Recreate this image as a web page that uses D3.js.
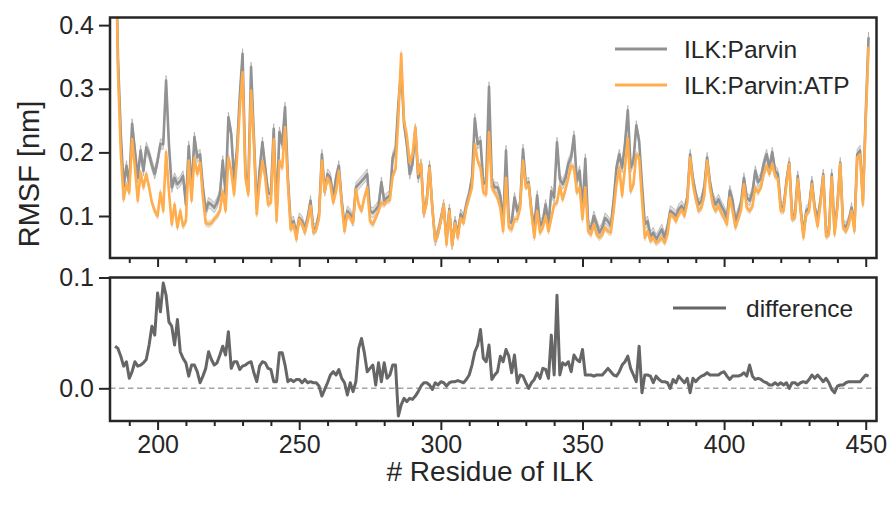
<!DOCTYPE html>
<html>
<head>
<meta charset="utf-8">
<script src="https://cdn.jsdelivr.net/npm/d3@7"></script>
<style>
  body { margin: 0; background: #fff; }
  svg { display: block; font-family: "Liberation Sans", Arial, sans-serif; }
  .tick text { fill: #262626; }
</style>
</head>
<body>
<svg id="chart" width="893" height="506"></svg>
<script>
// residues 185..451
const firstResidue = 185;
const lastResidue = 451;

// RMSF of ILK:Parvin (grey), nm
const rmsfParvin = [
  0.62, 0.35, 0.23, 0.146, 0.179, 0.150, 0.245, 0.203, 0.160, 0.203,
  0.171, 0.208, 0.197, 0.180, 0.166, 0.187, 0.213, 0.213, 0.313, 0.213,
  0.145, 0.160, 0.150, 0.155, 0.163, 0.118, 0.210, 0.139, 0.224, 0.192,
  0.197, 0.145, 0.108, 0.121, 0.118, 0.113, 0.121, 0.134, 0.187, 0.134,
  0.255, 0.229, 0.158, 0.203, 0.287, 0.355, 0.171, 0.139, 0.334, 0.224,
  0.113, 0.171, 0.216, 0.176, 0.137, 0.134, 0.237, 0.103, 0.232, 0.213,
  0.271, 0.160, 0.087, 0.092, 0.071, 0.097, 0.092, 0.079, 0.097, 0.124,
  0.079, 0.082, 0.103, 0.197, 0.139, 0.166, 0.160, 0.129, 0.160, 0.179,
  0.124, 0.084, 0.108, 0.103, 0.092, 0.145, 0.150, 0.155, 0.160, 0.166,
  0.108, 0.105, 0.110, 0.116, 0.153, 0.124, 0.129, 0.132, 0.192, 0.203,
  0.276, 0.332, 0.245, 0.213, 0.166, 0.182, 0.237, 0.160, 0.182, 0.105,
  0.124, 0.179, 0.113, 0.061, 0.074, 0.095, 0.118, 0.061, 0.111, 0.055,
  0.092, 0.071, 0.103, 0.095, 0.118, 0.134, 0.160, 0.253, 0.213, 0.218,
  0.150, 0.155, 0.303, 0.155, 0.145, 0.145, 0.132, 0.087, 0.203, 0.092,
  0.089, 0.129, 0.108, 0.118, 0.205, 0.150, 0.153, 0.108, 0.082, 0.132,
  0.084, 0.092, 0.118, 0.087, 0.139, 0.129, 0.216, 0.158, 0.150, 0.160,
  0.182, 0.192, 0.226, 0.155, 0.171, 0.108, 0.190, 0.087, 0.079, 0.100,
  0.087, 0.074, 0.082, 0.097, 0.092, 0.084, 0.124, 0.176, 0.197, 0.176,
  0.213, 0.266, 0.176, 0.187, 0.242, 0.218, 0.150, 0.087, 0.092, 0.068,
  0.074, 0.063, 0.071, 0.079, 0.066, 0.082, 0.108, 0.105, 0.100, 0.111,
  0.116, 0.108, 0.129, 0.197, 0.158, 0.134, 0.118, 0.124, 0.145, 0.192,
  0.153, 0.129, 0.118, 0.126, 0.116, 0.108, 0.097, 0.140, 0.124, 0.092,
  0.105, 0.121, 0.160, 0.129, 0.124, 0.137, 0.171, 0.153, 0.160, 0.182,
  0.197, 0.176, 0.200, 0.171, 0.166, 0.116, 0.113, 0.155, 0.184, 0.100,
  0.103, 0.163, 0.113, 0.071, 0.108, 0.113, 0.155, 0.113, 0.095, 0.124,
  0.166, 0.074, 0.076, 0.166, 0.076, 0.118, 0.184, 0.087, 0.082, 0.092,
  0.113, 0.082, 0.197, 0.203, 0.124, 0.260, 0.381
];

// RMSF of ILK:Parvin:ATP (orange), nm
const rmsfParvinAtp = [
  0.60, 0.33, 0.20, 0.126, 0.150, 0.137, 0.221, 0.176, 0.124, 0.168,
  0.145, 0.166, 0.145, 0.121, 0.108, 0.100, 0.137, 0.108, 0.200, 0.139,
  0.087, 0.118, 0.082, 0.108, 0.084, 0.092, 0.187, 0.124, 0.192, 0.166,
  0.184, 0.129, 0.089, 0.087, 0.089, 0.095, 0.100, 0.108, 0.139, 0.108,
  0.192, 0.171, 0.134, 0.187, 0.266, 0.326, 0.160, 0.134, 0.297, 0.213,
  0.103, 0.150, 0.187, 0.160, 0.118, 0.121, 0.221, 0.092, 0.187, 0.176,
  0.240, 0.150, 0.079, 0.087, 0.063, 0.095, 0.087, 0.074, 0.092, 0.116,
  0.074, 0.079, 0.097, 0.187, 0.137, 0.160, 0.150, 0.121, 0.139, 0.171,
  0.118, 0.076, 0.103, 0.097, 0.089, 0.142, 0.118, 0.108, 0.129, 0.145,
  0.092, 0.087, 0.097, 0.108, 0.121, 0.118, 0.124, 0.125, 0.163, 0.174,
  0.255, 0.355, 0.250, 0.226, 0.184, 0.197, 0.240, 0.166, 0.182, 0.103,
  0.121, 0.176, 0.113, 0.061, 0.071, 0.092, 0.118, 0.055, 0.108, 0.053,
  0.089, 0.066, 0.097, 0.089, 0.113, 0.129, 0.145, 0.213, 0.187, 0.176,
  0.137, 0.134, 0.232, 0.145, 0.137, 0.129, 0.113, 0.076, 0.160, 0.082,
  0.079, 0.095, 0.095, 0.113, 0.187, 0.145, 0.150, 0.103, 0.066, 0.108,
  0.074, 0.082, 0.100, 0.076, 0.097, 0.118, 0.121, 0.147, 0.126, 0.142,
  0.160, 0.179, 0.176, 0.137, 0.145, 0.095, 0.145, 0.076, 0.071, 0.087,
  0.071, 0.066, 0.071, 0.082, 0.076, 0.074, 0.108, 0.150, 0.176, 0.132,
  0.176, 0.222, 0.139, 0.150, 0.197, 0.192, 0.126, 0.066, 0.076, 0.061,
  0.066, 0.058, 0.061, 0.066, 0.058, 0.071, 0.103, 0.100, 0.092, 0.103,
  0.110, 0.100, 0.121, 0.192, 0.150, 0.126, 0.108, 0.113, 0.132, 0.187,
  0.145, 0.118, 0.108, 0.116, 0.105, 0.097, 0.087, 0.129, 0.108, 0.082,
  0.095, 0.110, 0.150, 0.113, 0.108, 0.115, 0.145, 0.137, 0.145, 0.166,
  0.179, 0.166, 0.182, 0.163, 0.158, 0.108, 0.108, 0.150, 0.182, 0.095,
  0.097, 0.158, 0.108, 0.066, 0.103, 0.108, 0.150, 0.108, 0.084, 0.118,
  0.163, 0.068, 0.071, 0.161, 0.071, 0.113, 0.182, 0.082, 0.076, 0.087,
  0.108, 0.076, 0.192, 0.197, 0.118, 0.250, 0.366
];

// difference panel (Parvin - Parvin:ATP), nm
const rmsfDifference = [
  0.038, 0.036, 0.029, 0.020, 0.024, 0.009, 0.015, 0.024, 0.020, 0.021,
  0.023, 0.026, 0.039, 0.056, 0.048, 0.086, 0.069, 0.095, 0.084, 0.060,
  0.056, 0.039, 0.062, 0.033, 0.027, 0.023, 0.011, 0.021, 0.021, 0.015,
  0.005, 0.011, 0.018, 0.033, 0.026, 0.021, 0.023, 0.030, 0.038, 0.030,
  0.051, 0.018, 0.024, 0.024, 0.017, 0.020, 0.021, 0.023, 0.024, 0.014,
  0.006, 0.020, 0.024, 0.023, 0.018, 0.017, 0.006, 0.006, 0.032, 0.032,
  0.021, 0.006, 0.008, 0.006, 0.008, 0.008, 0.005, 0.008, 0.005, 0.006,
  0.005, 0.005, 0.002, -0.007, -0.001, 0.005, 0.012, 0.015, 0.012, 0.017,
  0.009, 0.005, -0.006, 0.005, -0.003, 0.006, 0.036, 0.045, 0.032, 0.015,
  0.018, 0.021, 0.003, 0.023, 0.006, 0.023, 0.009, 0.012, 0.021, 0.021,
  -0.025, -0.015, -0.009, -0.012, -0.009, -0.010, -0.007, -0.003, 0.002, 0.005,
  0.005, 0.003, -0.001, 0.005, 0.003, 0.006, 0.005, 0.002, 0.005, 0.006,
  0.006, 0.007, 0.006, 0.005, 0.008, 0.012, 0.021, 0.033, 0.039, 0.053,
  0.027, 0.024, 0.039, 0.008, 0.012, 0.015, 0.029, 0.024, 0.035, 0.029,
  0.014, 0.030, 0.005, 0.012, 0.011, 0.005, 0.000, 0.005, 0.008, 0.014,
  0.009, 0.018, 0.017, 0.009, 0.048, 0.012, 0.084, 0.012, 0.023, 0.021,
  0.024, 0.015, 0.030, 0.026, 0.024, 0.035, 0.012, 0.012, 0.012, 0.011,
  0.012, 0.012, 0.012, 0.015, 0.018, 0.015, 0.012, 0.011, 0.015, 0.021,
  0.024, 0.029, 0.018, 0.012, 0.006, 0.038, -0.004, 0.012, 0.012, 0.011,
  0.005, 0.011, 0.008, 0.006, 0.006, 0.005, 0.000, 0.008, 0.005, 0.011,
  0.008, 0.005, 0.009, -0.004, 0.009, 0.006, 0.009, 0.011, 0.012, 0.014,
  0.012, 0.012, 0.012, 0.012, 0.014, 0.015, 0.011, 0.008, 0.011, 0.011,
  0.011, 0.012, 0.014, 0.011, 0.021, 0.011, 0.008, 0.009, 0.008, 0.006,
  0.005, 0.003, 0.003, 0.005, 0.003, 0.005, 0.003, 0.005, 0.000, 0.005,
  0.005, 0.003, 0.005, 0.006, 0.005, 0.008, 0.012, 0.009, 0.012, 0.009,
  0.006, 0.009, 0.005, -0.001, -0.004, 0.002, 0.003, 0.003, 0.005, 0.006,
  0.006, 0.006, 0.006, 0.006, 0.009, 0.012, 0.011
];

// spread of the shaded band around each mean, nm
const parvinSpread = 0.008;
const parvinAtpSpread = 0.005;

const seriesNames = ['ILK:Parvin', 'ILK:Parvin:ATP'];
const xTicksMajor = [200, 250, 300, 350, 400, 450];
const yTicksTop = [0.1, 0.2, 0.3, 0.4];
const yTicksBottom = [0.0, 0.1];

const residues = d3.range(firstResidue, lastResidue + 1);
const ink = '#262626';
const grey = '#929292';
const orange = '#ffad4d';
const diffColor = '#666666';

const svg = d3.select('#chart');
const left = 110;
const right = 876.5;

const x = d3.scaleLinear().domain([183.2, 453.8]).range([left, right]);
const yTop = d3.scaleLinear().domain([0.034, 0.412]).range([258, 17.5]);
const yBot = d3.scaleLinear().domain([-0.0295, 0.1]).range([421, 277.5]);

const defs = svg.append('defs');
const addClip = (id, y) => defs.append('clipPath').attr('id', id)
  .append('rect').attr('x', left).attr('y', y.range()[1])
  .attr('width', right - left).attr('height', y.range()[0] - y.range()[1]);
addClip('clipTop', yTop);
addClip('clipBot', yBot);

const rows = residues.map((r, i) => ({
  r, p: rmsfParvin[i], a: rmsfParvinAtp[i], d: rmsfDifference[i]
}));

// top panel: bands + means
const topPanel = svg.append('g').attr('clip-path', 'url(#clipTop)');
const band = (key, spread) => d3.area()
  .x(d => x(d.r)).y0(d => yTop(d[key] - spread)).y1(d => yTop(d[key] + spread));
const line = key => d3.line().x(d => x(d.r)).y(d => yTop(d[key]));

[['p', parvinSpread], ['a', parvinAtpSpread]].forEach(([key, spread]) => {
  topPanel.append('path').datum(rows)
    .attr('d', band(key, spread))
    .attr('fill', key === 'p' ? '#b8b8b8' : '#d8c2a6')
    .attr('fill-opacity', 0.45)
    .attr('stroke', key === 'p' ? '#a0a0a0' : '#d9c8b2')
    .attr('stroke-opacity', 0.6)
    .attr('stroke-width', 1);
});
topPanel.append('path').datum(rows).attr('d', line('p'))
  .attr('fill', 'none').attr('stroke', grey).attr('stroke-width', 2.6)
  .attr('stroke-linejoin', 'round');
topPanel.append('path').datum(rows).attr('d', line('a'))
  .attr('fill', 'none').attr('stroke', orange).attr('stroke-width', 2.6)
  .attr('stroke-linejoin', 'round');

// bottom panel
const botPanel = svg.append('g').attr('clip-path', 'url(#clipBot)');
botPanel.append('line')
  .attr('x1', left).attr('x2', right).attr('y1', yBot(0)).attr('y2', yBot(0))
  .attr('stroke', '#a6a6a6').attr('stroke-width', 1.5).attr('stroke-dasharray', '5.5,3.5');
botPanel.append('path').datum(rows)
  .attr('d', d3.line().x(d => x(d.r)).y(d => yBot(d.d)))
  .attr('fill', 'none').attr('stroke', diffColor).attr('stroke-width', 3)
  .attr('stroke-linejoin', 'round');

// axes
const minor = d3.range(190, 451, 10).filter(v => v % 50 !== 0);
const styleAxis = g => {
  g.select('.domain').remove();
  g.selectAll('.tick line').attr('stroke', ink).attr('stroke-width', 2);
  g.selectAll('.tick text').attr('font-size', 25);
};

[[yTop, false], [yBot, true]].forEach(([y, labels]) => {
  const y0 = y.range()[0];
  svg.append('g').attr('transform', `translate(0,${y0})`)
    .call(d3.axisBottom(x).tickValues(minor).tickSize(5).tickFormat(''))
    .call(styleAxis);
  svg.append('g').attr('transform', `translate(0,${y0})`)
    .call(d3.axisBottom(x).tickValues(xTicksMajor).tickSize(9).tickPadding(5)
      .tickFormat(labels ? d3.format('d') : ''))
    .call(styleAxis);
});

svg.append('g').attr('transform', `translate(${left},0)`)
  .call(d3.axisLeft(yTop).tickValues(yTicksTop).tickSize(11).tickPadding(5).tickFormat(d3.format('.1f')))
  .call(styleAxis);
svg.append('g').attr('transform', `translate(${left},0)`)
  .call(d3.axisLeft(yBot).tickValues(yTicksBottom).tickSize(11).tickPadding(5).tickFormat(d3.format('.1f')))
  .call(styleAxis);

// frames
[yTop, yBot].forEach(y => {
  svg.append('rect')
    .attr('x', left).attr('y', y.range()[1])
    .attr('width', right - left).attr('height', y.range()[0] - y.range()[1])
    .attr('fill', 'none').attr('stroke', ink).attr('stroke-width', 2.5);
});

// labels
svg.append('text')
  .attr('x', 490).attr('y', 481)
  .attr('text-anchor', 'middle').attr('font-size', 28).attr('fill', ink)
  .text('# Residue of ILK');
svg.append('text')
  .attr('transform', 'translate(39,174) rotate(-90)')
  .attr('text-anchor', 'middle').attr('font-size', 29).attr('fill', ink)
  .text('RMSF [nm]');

// legends
const legendTop = svg.append('g');
[grey, orange].forEach((c, i) => {
  const ly = 49 + i * 36;
  legendTop.append('line').attr('x1', 615).attr('x2', 667).attr('y1', ly).attr('y2', ly)
    .attr('stroke', c).attr('stroke-width', 3);
  legendTop.append('text').attr('x', 684).attr('y', ly + 9)
    .attr('font-size', 24.5).attr('fill', ink).text(seriesNames[i]);
});
svg.append('line').attr('x1', 673).attr('x2', 726).attr('y1', 308).attr('y2', 308)
  .attr('stroke', diffColor).attr('stroke-width', 3);
svg.append('text').attr('x', 746).attr('y', 317)
  .attr('font-size', 24.5).attr('fill', ink).text('difference');
</script>
</body>
</html>
